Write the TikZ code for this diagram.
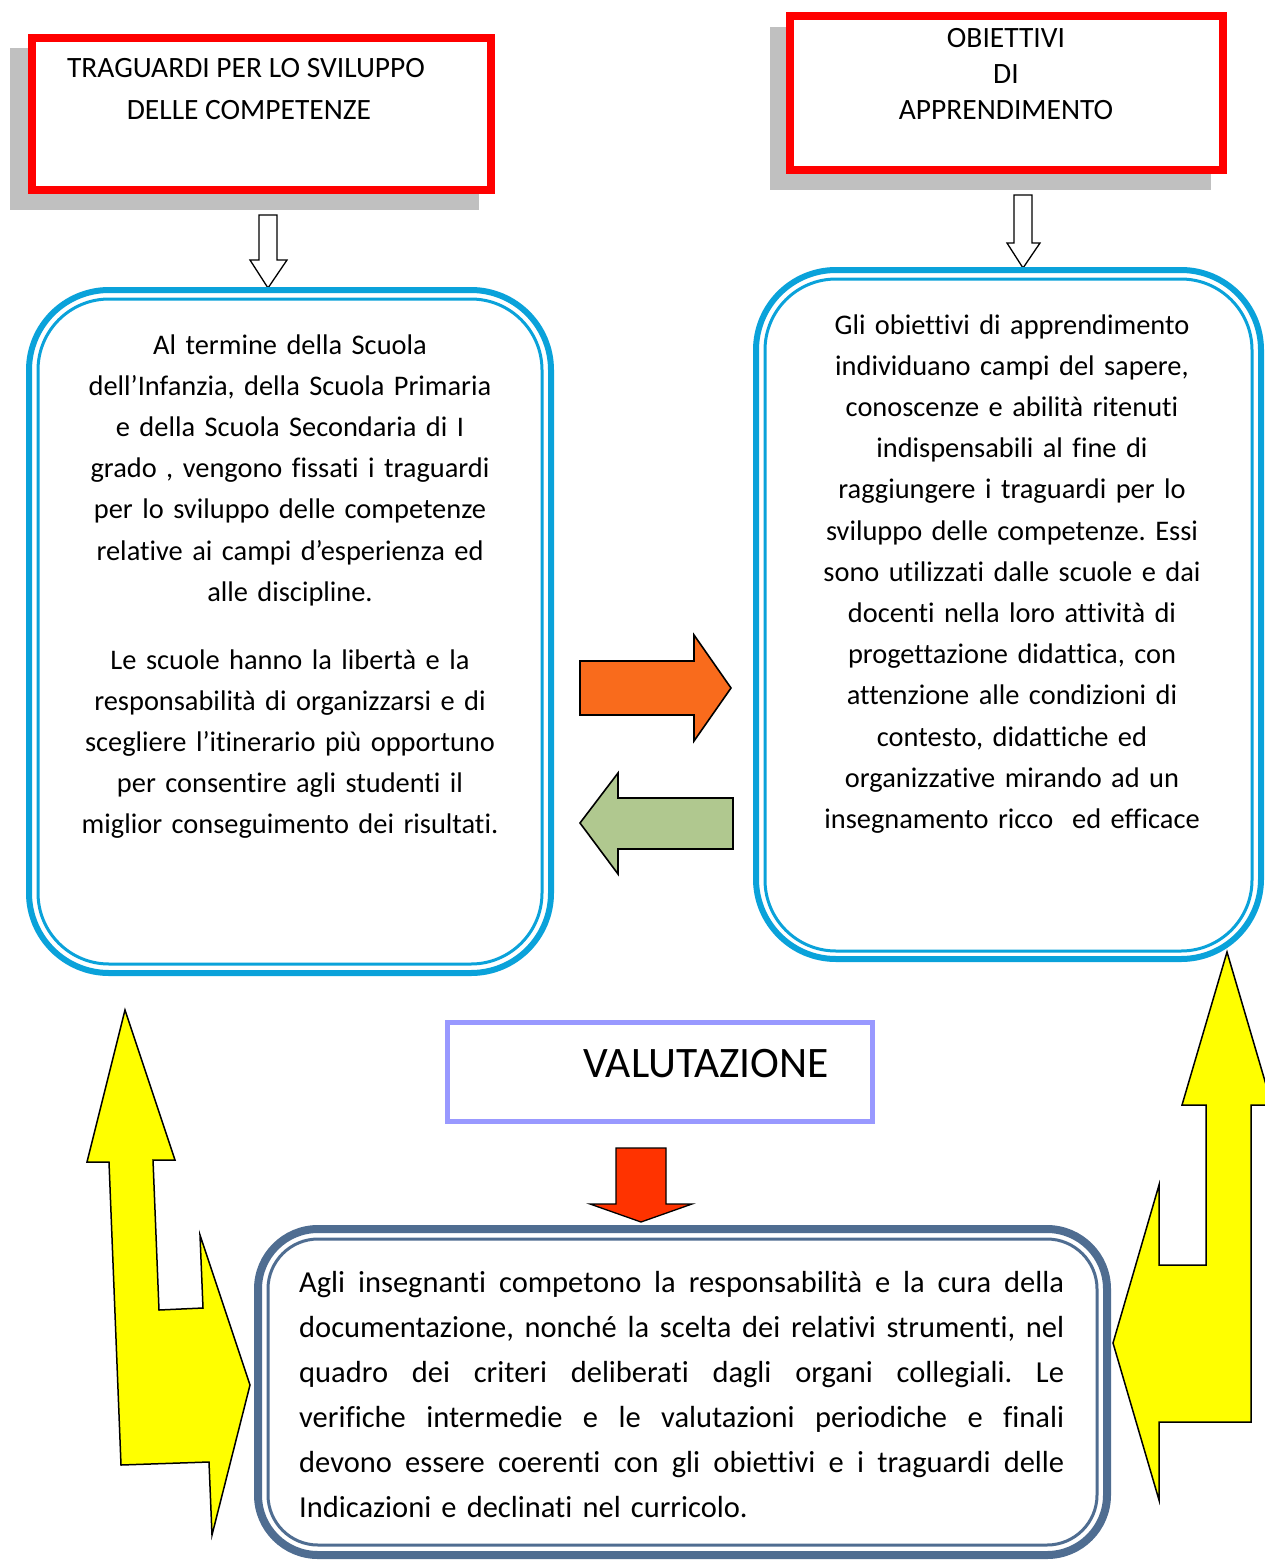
\documentclass[tikz,border=0pt]{standalone}
\usepackage{fontspec}
\setmainfont{Carlito}[Ligatures=NoCommon]
\frenchspacing
\definecolor{boxred}{RGB}{255,0,0}
\definecolor{shadowgray}{RGB}{192,192,192}
\definecolor{skyblue}{RGB}{10,162,218}
\definecolor{orangearr}{RGB}{249,107,28}
\definecolor{greenarr}{RGB}{176,200,143}
\definecolor{lavender}{RGB}{153,153,255}
\definecolor{redarr}{RGB}{255,51,0}
\definecolor{slateblue}{RGB}{79,109,145}
\definecolor{yellowarr}{RGB}{255,255,0}
\newcommand{\jline}[1]{\hbox to 765pt{\spaceskip=0.226em plus 1em minus 0.1em\relax #1}}
\tikzset{
  redbox/.style={draw=boxred, line width=8pt},
  shadowbox/.style={fill=shadowgray},
  hollowarrow/.style={draw=black, fill=white, line width=1.3pt, line join=miter},
  blockarrow/.style={draw=black, line width=1.6pt, line join=miter},
  outerline/.style={line width=6pt},
  innerline/.style={line width=3pt},
  titletext/.style={font=\fontsize{29.5}{34}\selectfont, inner sep=0},
  bodytext/.style={font=\fontsize{28.4}{41.2}\selectfont, align=center, inner sep=0},
  bottomtext/.style={font=\fontsize{30.5}{45}\selectfont, align=left, inner sep=0, text width=765pt}
}
\begin{document}
\begin{tikzpicture}[x=1pt,y=-1pt]
\useasboundingbox (0,0) rectangle (1265,1560);
\fill[white] (0,0) rectangle (1265,1560);

% ---- top left title box
\fill[shadowbox] (10,48) rectangle (479,210);
\filldraw[redbox, fill=white] (32,38) rectangle (491,190);
\node[titletext, anchor=base] (t1a) at (246,78) {TRAGUARDI PER LO SVILUPPO};
\node[titletext, anchor=base] (t1b) at (249,120) {DELLE COMPETENZE};

% ---- top right title box
\fill[shadowbox] (770,27) rectangle (1211,190);
\filldraw[redbox, fill=white] (790,16) rectangle (1223,170);
\node[titletext, anchor=base] (t2a) at (1006,48) {OBIETTIVI};
\node[titletext, anchor=base] (t2b) at (1006,84) {DI};
\node[titletext, anchor=base] (t2c) at (1006,120) {APPRENDIMENTO};

% ---- small hollow arrows
\draw[hollowarrow] (259,215) -- (277,215) -- (277,260) -- (287,260) -- (268,288) -- (250,260) -- (259,260) -- cycle;
\draw[hollowarrow] (1014,195) -- (1032,195) -- (1032,243) -- (1040,243) -- (1023,268) -- (1007,243) -- (1014,243) -- cycle;

% ---- left blue rounded box
\draw[skyblue, outerline, rounded corners=80pt] (29,290) rectangle (551,973);
\draw[skyblue, innerline, rounded corners=71pt] (38,299) rectangle (542,964);

% ---- right blue rounded box
\draw[skyblue, outerline, rounded corners=80pt] (756,270) rectangle (1261,959);
\draw[skyblue, innerline, rounded corners=71pt] (765,279) rectangle (1252,951);

\node[bodytext, text width=520pt, anchor=base] (lefta) at (290,354) {Al termine della Scuola\\
dell’Infanzia, della Scuola Primaria\\
e della Scuola Secondaria di I\\
grado , vengono fissati i traguardi\\
per lo sviluppo delle competenze\\
relative ai campi d’esperienza ed\\
alle discipline.};
\node[bodytext, text width=520pt, anchor=base] (leftb) at (290,669) {Le scuole hanno la libertà e la\\
responsabilità di organizzarsi e di\\
scegliere l’itinerario più opportuno\\
per consentire agli studenti il\\
miglior conseguimento dei risultati.};

\node[bodytext, text width=490pt, anchor=base] (righttext) at (1012,334) {Gli obiettivi di apprendimento\\
individuano campi del sapere,\\
conoscenze e abilità ritenuti\\
indispensabili al fine di\\
raggiungere i traguardi per lo\\
sviluppo delle competenze. Essi\\
sono utilizzati dalle scuole e dai\\
docenti nella loro attività di\\
progettazione didattica, con\\
attenzione alle condizioni di\\
contesto, didattiche ed\\
organizzative mirando ad un\\
insegnamento ricco \ ed efficace};

% ---- middle block arrows
\filldraw[blockarrow, fill=orangearr] (580,661) -- (694,661) -- (694,635) -- (731,688) -- (694,741) -- (694,715) -- (580,715) -- cycle;
\filldraw[blockarrow, fill=greenarr] (580,823) -- (618,773) -- (618,798) -- (733,798) -- (733,849) -- (618,849) -- (618,874) -- cycle;

% ---- VALUTAZIONE box
\draw[lavender, line width=5pt] (447,1022) rectangle (872,1121);
\node[font=\fontsize{43.5}{48}\selectfont, inner sep=0, anchor=base] (valut) at (706,1077) {VALUTAZIONE};

% ---- red down arrow
\filldraw[blockarrow, line width=1.3pt, fill=redarr] (616,1148) -- (666,1148) -- (666,1204) -- (692,1204) -- (641,1222) -- (590,1204) -- (616,1204) -- cycle;

% ---- bottom rounded box
\draw[slateblue, line width=8pt, rounded corners=60pt] (258,1229) rectangle (1107,1555);
\draw[slateblue, innerline, rounded corners=50pt] (268,1239) rectangle (1097,1545);

\node[bottomtext, anchor=base west] (bottom) at (299,1292) {%
\jline{Agli insegnanti competono la responsabilità e la cura della}
\jline{documentazione, nonché la scelta dei relativi strumenti, nel}
\jline{quadro dei criteri deliberati dagli organi collegiali. Le}
\jline{verifiche intermedie e le valutazioni periodiche e finali}
\jline{devono essere coerenti con gli obiettivi e i traguardi delle}
\hbox{Indicazioni e declinati nel curricolo.}};

% ---- yellow arrows
\filldraw[blockarrow, line width=1.5pt, fill=yellowarr] (125,1010) -- (175,1160) -- (153,1160) -- (159,1310) -- (203,1308) -- (200,1235) -- (250,1385) -- (212,1535) -- (209,1462) -- (121,1465) -- (109,1162) -- (87,1162) -- cycle;
\filldraw[blockarrow, line width=1.5pt, fill=yellowarr] (1227,952) -- (1272,1105) -- (1251,1105) -- (1251,1422) -- (1159,1422) -- (1159,1500) -- (1113,1343) -- (1159,1185) -- (1159,1265) -- (1206,1265) -- (1206,1105) -- (1182,1105) -- cycle;
\end{tikzpicture}
\end{document}
